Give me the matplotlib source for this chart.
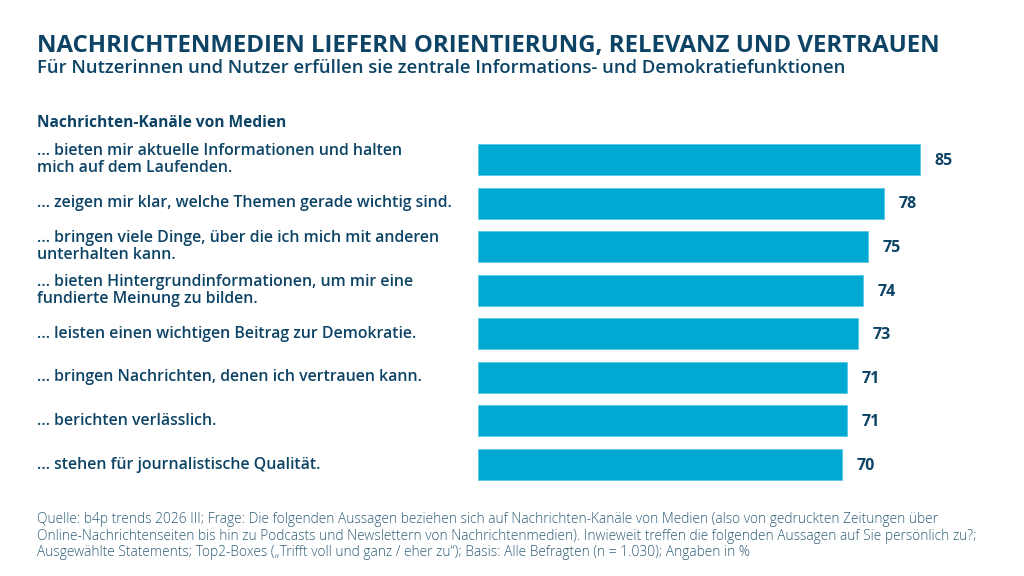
import matplotlib
matplotlib.use("Agg")
import matplotlib.pyplot as plt
from matplotlib.transforms import blended_transform_factory

W, H, DPI = 1024, 576, 100
NAVY = "#0d4466"
BAR = "#00a9d1"
FOOT = "#2f5f78"

title = "NACHRICHTENMEDIEN LIEFERN ORIENTIERUNG, RELEVANZ UND VERTRAUEN"
subtitle = "Für Nutzerinnen und Nutzer erfüllen sie zentrale Informations- und Demokratiefunktionen"
group_label = "Nachrichten-Kanäle von Medien"
statements = [
    "… bieten mir aktuelle Informationen und halten\nmich auf dem Laufenden.",
    "… zeigen mir klar, welche Themen gerade wichtig sind.",
    "… bringen viele Dinge, über die ich mich mit anderen\nunterhalten kann.",
    "… bieten Hintergrundinformationen, um mir eine\nfundierte Meinung zu bilden.",
    "… leisten einen wichtigen Beitrag zur Demokratie.",
    "… bringen Nachrichten, denen ich vertrauen kann.",
    "… berichten verlässlich.",
    "… stehen für journalistische Qualität.",
]
values = [85, 78, 75, 74, 73, 71, 71, 70]
footer = ("Quelle: b4p trends 2026 III; Frage: Die folgenden Aussagen beziehen sich auf Nachrichten-Kanäle von Medien (also von gedruckten Zeitungen über\n"
          "Online-Nachrichtenseiten bis hin zu Podcasts und Newslettern von Nachrichtenmedien). Inwieweit treffen die folgenden Aussagen auf Sie persönlich zu?;\n"
          "Ausgewählte Statements; Top2-Boxes („Trifft voll und ganz / eher zu“); Basis: Alle Befragten (n = 1.030); Angaben in %")

plt.rcParams["font.family"] = ["Open Sans", "DejaVu Sans"]

fig = plt.figure(figsize=(W / DPI, H / DPI), dpi=DPI)


def fx(px):
    return px / W


def fy(py):
    return 1 - py / H


# bar area: x 0..100 -> 478..998 px, rows centred from 159.5 px, pitch 43.57 px
ax = fig.add_axes([fx(478), fy(486.3), fx(520), 348.6 / H])
ypos = list(range(len(values)))
ax.barh(ypos, values, height=0.71, color=BAR, edgecolor="#5cc6e0", linewidth=0.6)
ax.set_xlim(0, 100)
ax.set_ylim(len(values) - 0.5, -0.5)
ax.axis("off")

for y, v in zip(ypos, values):
    ax.annotate(str(v), (v, y), xytext=(10.5, -1), textcoords="offset points",
                va="center", ha="left", fontsize=11.5, fontweight="bold", color=NAVY)

lab_tr = blended_transform_factory(fig.transFigure, ax.transData)
for y, s in zip(ypos, statements):
    ax.text(fx(37), y, s, transform=lab_tr, va="center", ha="left",
            fontsize=11.4, fontweight="semibold", color=NAVY, linespacing=1.05)

fig.text(fx(37), fy(46), title, fontsize=17.3, fontweight="bold", color=NAVY, va="center")
fig.text(fx(37), fy(68), subtitle, fontsize=13.3, fontweight="semibold", color=NAVY, va="center")
fig.text(fx(37), fy(123), group_label, fontsize=11.2, fontweight="bold", color=NAVY, va="center")
fig.text(fx(37), fy(536), footer, fontsize=9.9, fontweight="light", color=FOOT, va="center",
         linespacing=1.1)

fig.savefig("out.png", dpi=DPI)
